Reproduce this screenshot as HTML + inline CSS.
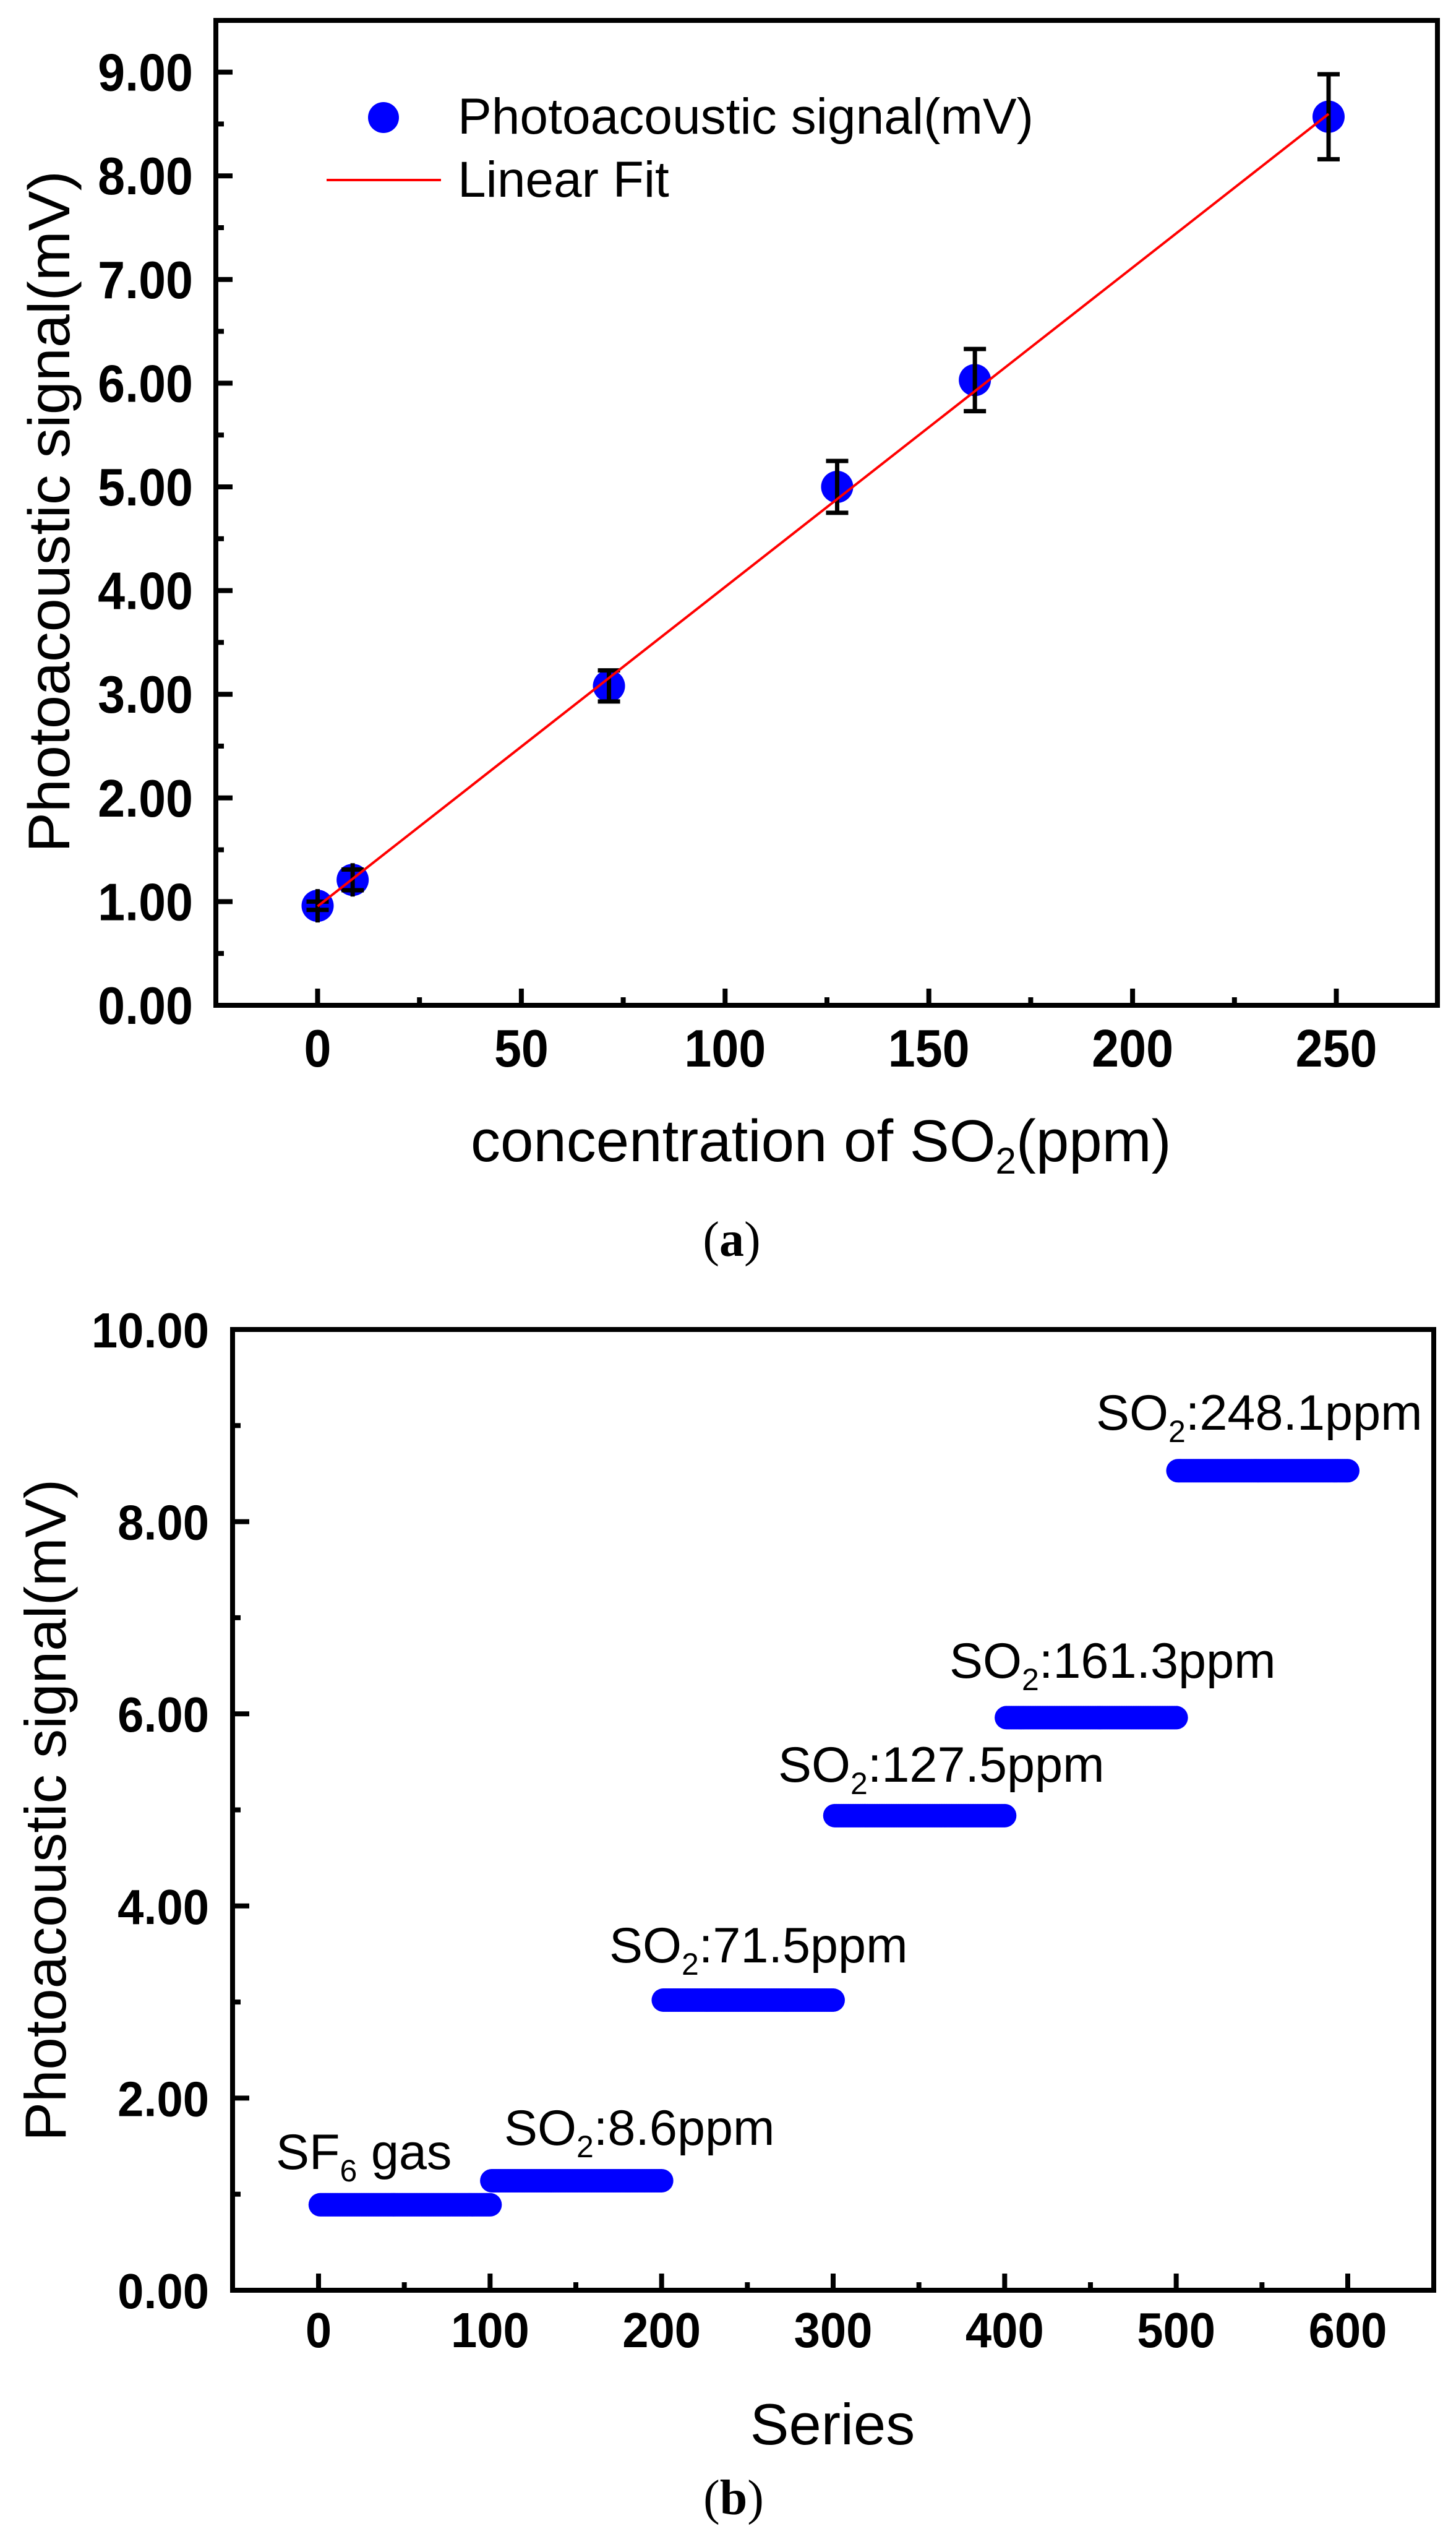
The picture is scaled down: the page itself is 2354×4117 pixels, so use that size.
<!DOCTYPE html>
<html><head><meta charset="utf-8"><style>
html,body{margin:0;padding:0;background:#fff;}
svg{display:block;}
text{font-family:"Liberation Sans",Arial,sans-serif;}
</style></head><body>
<svg id="fig" width="2354" height="4117" viewBox="0 0 2354 4117" xmlns="http://www.w3.org/2000/svg">
<rect x="0" y="0" width="2354" height="4117" fill="#fff"/>
<g id="pa"></g>
<g id="pb"></g>
<text x="1183" y="2030" text-anchor="middle" font-size="80" style="font-family:'Liberation Serif',serif">(<tspan font-weight="bold">a</tspan>)</text>
<text x="1186" y="4064" text-anchor="middle" font-size="80" style="font-family:'Liberation Serif',serif">(<tspan font-weight="bold">b</tspan>)</text>
</svg>
<script>
// ---- Panel A data ----
const concA = [0, 8.6, 71.5, 127.5, 161.3, 248.1];
const signalA = [0.96, 1.21, 3.08, 5.00, 6.03, 8.57];
const errA = [0.04, 0.10, 0.15, 0.25, 0.30, 0.41];
const fitIntercept = 0.955;
const fitSlope = 0.0308;
const yTicksA = ["0.00","1.00","2.00","3.00","4.00","5.00","6.00","7.00","8.00","9.00"];
const xTicksA = [0, 50, 100, 150, 200, 250];
// ---- Panel B data ----
const levelsB = [0.89, 1.14, 3.02, 4.94, 5.96, 8.53];
const segStartB = [1, 101, 201, 301, 401, 501];
const segCountB = [100, 100, 100, 100, 100, 100];
const labelsB = ["SF6 gas","SO2:8.6ppm","SO2:71.5ppm","SO2:127.5ppm","SO2:161.3ppm","SO2:248.1ppm"];
const yTicksB = ["0.00","2.00","4.00","6.00","8.00","10.00"];
const xTicksB = [0, 100, 200, 300, 400, 500, 600];

const NS = "http://www.w3.org/2000/svg";
function mk(parent, tag, attrs){ const e=document.createElementNS(NS,tag); for(const k in attrs) e.setAttribute(k,attrs[k]); parent.appendChild(e); return e; }

// ===== Panel A =====
const pa = document.getElementById('pa');
const A = {l:349, r:2324, t:33, b:1625};
const xA = v => 513.5 + v*6.588;
const yA = v => 1625 - v*167.6;
for(let i=0;i<=18;i++){ const v=i*0.5; const y=yA(v); if(y<A.t+2) continue;
  const t=mk(pa,'line',{x1:A.l,x2:A.l+(i%2?13:27),y1:y,y2:y,stroke:'#000','stroke-width':8});
  
  
}
yTicksA.forEach((s,i)=>{ const g=mk(pa,'g',{transform:`translate(312,${yA(parseFloat(s))+30}) scale(0.93,1)`});
  const t=mk(g,'text',{x:0,y:0,'text-anchor':'end','font-size':85,'font-weight':'bold'}); t.textContent=s;
  
  
});
for(let v=0; v<=275; v+=25){ const x=xA(v); if(x>A.r-4) continue;
  const t=mk(pa,'line',{x1:x,x2:x,y1:A.b,y2:A.b-(v%50?13:27),stroke:'#000','stroke-width':8});
  
  
}
xTicksA.forEach(v=>{ const g=mk(pa,'g',{transform:`translate(${xA(v)},1724) scale(0.93,1)`});
  const t=mk(g,'text',{x:0,y:0,'text-anchor':'middle','font-size':85,'font-weight':'bold'}); t.textContent=String(v);
  
  
});
const boxA=mk(pa,'rect',{x:A.l,y:A.t,width:A.r-A.l,height:A.b-A.t,fill:'none',stroke:'#000','stroke-width':8});


concA.forEach((c,i)=>{ const x=xA(c), y=yA(signalA[i]);
  const p=mk(pa,'circle',{cx:x,cy:y,r:26,fill:'#0000ff'});
  
  
  const e=errA[i]*167.6; const half=Math.max(e,27);
  const eb=mk(pa,'g',{stroke:'#000','stroke-width':7});
  
  
  mk(eb,'line',{x1:x,x2:x,y1:y-half,y2:y+half});
  mk(eb,'line',{x1:x-18,x2:x+18,y1:y-e,y2:y-e});
  mk(eb,'line',{x1:x-18,x2:x+18,y1:y+e,y2:y+e});
});
const fit=mk(pa,'line',{x1:xA(0),y1:yA(fitIntercept),x2:xA(concA[concA.length-1]),y2:yA(fitIntercept+fitSlope*concA[concA.length-1]),stroke:'#ff0000','stroke-width':4});


const lg=mk(pa,'g',{});


mk(lg,'circle',{cx:620,cy:190,r:25,fill:'#0000ff'});
const l1=mk(lg,'text',{x:740,y:216,'font-size':82,textLength:931,lengthAdjust:'spacingAndGlyphs'}); l1.textContent='Photoacoustic signal(mV)';
mk(lg,'line',{x1:528,x2:713,y1:291,y2:291,stroke:'#ff0000','stroke-width':4});
const l2=mk(lg,'text',{x:740,y:318,'font-size':82}); l2.textContent='Linear Fit';
const ytA=mk(pa,'text',{x:0,y:0,transform:'translate(112,827) rotate(-90)','text-anchor':'middle','font-size':95,textLength:1102,lengthAdjust:'spacingAndGlyphs'});
ytA.textContent='Photoacoustic signal(mV)';


const xtA=mk(pa,'text',{x:761,y:1877,'font-size':96});
xtA.innerHTML='concentration of SO<tspan font-size="60" dy="20">2</tspan><tspan dy="-20">(ppm)</tspan>';



// ===== Panel B =====
const pb = document.getElementById('pb');
const B = {l:376, r:2318, t:2149, b:3702};
const xB = v => 515 + v*2.7733;
const yB = v => 3702 - v*155.3;
for(let v=0; v<=10; v+=1){ const y=yB(v); if(y<B.t+2) continue;
  const t=mk(pb,'line',{x1:B.l,x2:B.l+(v%2?13:27),y1:y,y2:y,stroke:'#000','stroke-width':8});
  
  
}
yTicksB.forEach(s=>{ const g=mk(pb,'g',{transform:`translate(338,${yB(parseFloat(s))+29}) scale(0.95,1)`});
  const t=mk(g,'text',{x:0,y:0,'text-anchor':'end','font-size':80,'font-weight':'bold'}); t.textContent=s;
  
  
});
for(let v=0; v<=650; v+=50){ const x=xB(v); if(x>B.r-4) continue;
  const t=mk(pb,'line',{x1:x,x2:x,y1:B.b,y2:B.b-(v%100?13:27),stroke:'#000','stroke-width':8});
  
  
}
xTicksB.forEach(v=>{ const g=mk(pb,'g',{transform:`translate(${xB(v)},3794) scale(0.95,1)`});
  const t=mk(g,'text',{x:0,y:0,'text-anchor':'middle','font-size':80,'font-weight':'bold'}); t.textContent=String(v);
  
  
});
const boxB=mk(pb,'rect',{x:B.l,y:B.t,width:B.r-B.l,height:B.b-B.t,fill:'none',stroke:'#000','stroke-width':8});


levelsB.forEach((lv,i)=>{
  const g=mk(pb,'g',{fill:'#0000ff'});
  
  
  for(let k=0;k<segCountB[i];k++){ mk(g,'circle',{cx:xB(segStartB[i]+k),cy:yB(lv),r:19}); }
});
const annX=[446,815,985,1258,1535,1772];
const annY=[3506,3467,3172,2880,2712,2311];
labelsB.forEach((s,i)=>{
  const t=mk(pb,'text',{x:annX[i],y:annY[i],'font-size':81});
  const m=s.match(/^([A-Z]+?)(\d)(.*)$/);
  t.innerHTML=`${m[1]}<tspan font-size="50" dy="20">${m[2]}</tspan><tspan dy="-20">${m[3]}</tspan>`;
  
  
});
const ytB=mk(pb,'text',{x:0,y:0,transform:'translate(106,2926) rotate(-90)','text-anchor':'middle','font-size':94,textLength:1070,lengthAdjust:'spacingAndGlyphs'});
ytB.textContent='Photoacoustic signal(mV)';


const xtB=mk(pb,'text',{x:1346,y:3951,'text-anchor':'middle','font-size':94});
xtB.textContent='Series';


</script>
</body></html>
